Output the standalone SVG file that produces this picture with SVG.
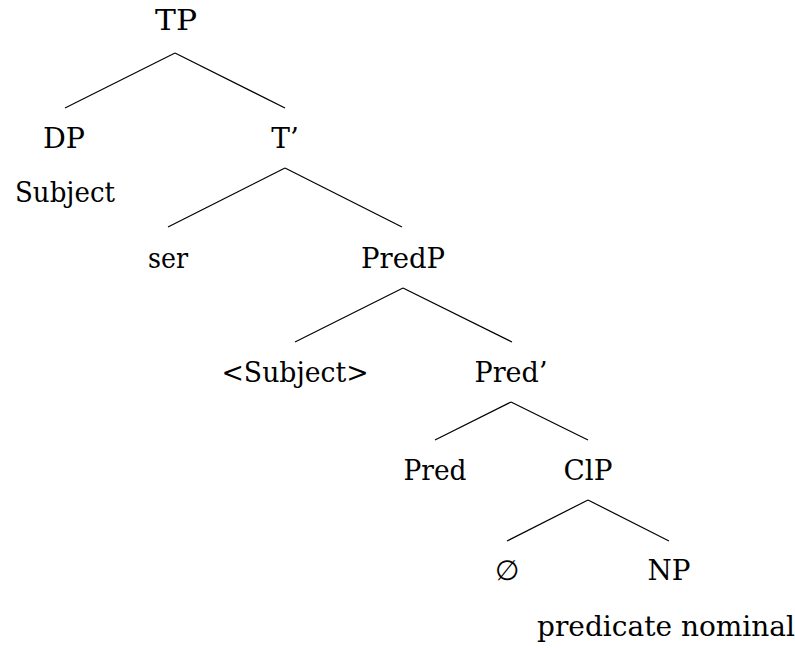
<svg xmlns="http://www.w3.org/2000/svg" width="795" height="648" viewBox="0 0 795 648">
<style>
text{font-family:"DejaVu Serif","Liberation Serif","Times New Roman",serif;font-size:28px;fill:#000;text-anchor:middle}
.e line{stroke:#000;stroke-width:1.2}
</style>
<rect width="795" height="648" fill="#fff"/>
<g class="e" id="connectors">
<line x1="175" y1="53" x2="65" y2="108"/>
<line x1="175" y1="53" x2="285" y2="108"/>
<line x1="285" y1="168" x2="168" y2="227"/>
<line x1="285" y1="168" x2="402" y2="227"/>
<line x1="403" y1="288" x2="295" y2="342"/>
<line x1="403" y1="288" x2="512" y2="342"/>
<line x1="511" y1="402" x2="435" y2="440"/>
<line x1="511" y1="402" x2="588" y2="440"/>
<line x1="588" y1="500" x2="507" y2="541"/>
<line x1="588" y1="500" x2="669" y2="541"/>
</g>
<g id="TP"><text x="176" y="30" textLength="42" lengthAdjust="spacingAndGlyphs">TP</text></g>
<g id="DP"><text x="64" y="148" textLength="42" lengthAdjust="spacingAndGlyphs">DP</text><text x="65" y="202" textLength="100" lengthAdjust="spacingAndGlyphs">Subject</text></g>
<g id="Tbar"><text x="285" y="148">T’</text></g>
<g id="ser"><text x="168" y="268" textLength="40" lengthAdjust="spacingAndGlyphs">ser</text></g>
<g id="PredP"><text x="403" y="268" textLength="84" lengthAdjust="spacingAndGlyphs">PredP</text></g>
<g id="SubjectTrace"><text x="295" y="382" textLength="147" lengthAdjust="spacingAndGlyphs">&lt;Subject&gt;</text></g>
<g id="Predbar"><text x="511" y="382" textLength="73" lengthAdjust="spacingAndGlyphs">Pred’</text></g>
<g id="Pred"><text x="435" y="480" textLength="63" lengthAdjust="spacingAndGlyphs">Pred</text></g>
<g id="ClP"><text x="588" y="480" textLength="49" lengthAdjust="spacingAndGlyphs">ClP</text></g>
<g id="Empty"><text x="507" y="580">∅</text></g>
<g id="NP"><text x="669" y="580" textLength="43" lengthAdjust="spacingAndGlyphs">NP</text><text x="666" y="636" font-size="25">predicate nominal</text></g>
</svg>
